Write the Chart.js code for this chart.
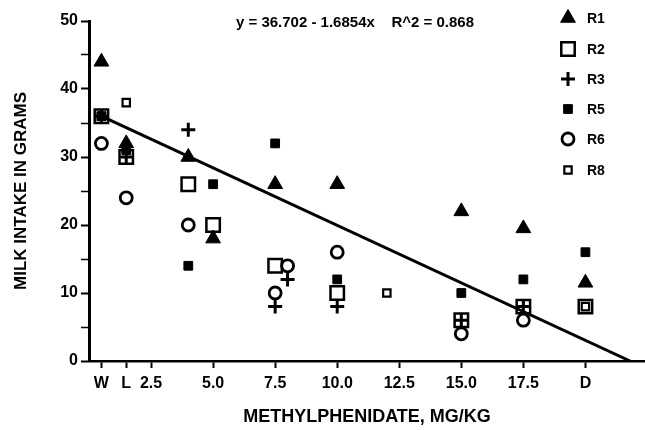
<!DOCTYPE html>
<html>
<head>
<meta charset="utf-8">
<script src="https://cdn.jsdelivr.net/npm/chart.js@4.4.0/dist/chart.umd.min.js"></script>
<style>
  html, body { margin: 0; padding: 0; background: #fff; }
  #wrap { width: 645px; height: 430px; }
</style>
</head>
<body>
<div id="wrap"><canvas id="chart" width="645" height="430"></canvas></div>
<script>
// x positions: W and L sit before 2.5, D is plotted at 20
const xTickValues = [0.5, 1.5, 2.5, 5, 7.5, 10, 12.5, 15, 17.5, 20];
const xTickLabels = ["W", "L", "2.5", "5.0", "7.5", "10.0", "12.5", "15.0", "17.5", "D"];

const seriesNames = ["R1", "R2", "R3", "R5", "R6", "R8"];

const r1X = [0.5, 1.5, 4, 5, 7.5, 10, 15, 17.5, 20];
const r1Y = [44, 32, 30, 18, 26, 26, 22, 19.5, 11.5];

const r2X = [0.5, 1.5, 4, 5, 7.5, 10, 15, 17.5, 20];
const r2Y = [36, 30, 26, 20, 14, 10, 6, 8, 8];

const r3X = [0.5, 1.5, 4, 7.5, 8, 10, 15, 17.5];
const r3Y = [36, 30, 34, 8, 12, 8, 6, 8];

const r5X = [0.5, 1.5, 4, 5, 7.5, 10, 15, 17.5, 20];
const r5Y = [36, 31, 14, 26, 32, 12, 10, 12, 16];

const r6X = [0.5, 1.5, 4, 7.5, 8, 10, 15, 17.5];
const r6Y = [32, 24, 20, 10, 14, 16, 4, 6];

const r8X = [0.5, 1.5, 12, 20];
const r8Y = [36, 38, 10, 8];

// regression line end points
const fitX = [0.5, 21.8];
const fitY = [36, 0];
const fitText = "y = 36.702 - 1.6854x    R^2 = 0.868";

const toPts = (xs, ys) => xs.map((x, i) => ({ x: x, y: ys[i] }));

const BLACK = "#000";
const NONE = "rgba(0,0,0,0)";
const FONT = "'Liberation Sans', Arial, sans-serif";

const markerStyles = {
  R1: { pointStyle: "triangle", radius: 8.5, bg: BLACK, bw: 1 },
  R2: { pointStyle: "rect", radius: 9.5, bg: NONE, bw: 2.5 },
  R3: { pointStyle: "cross", radius: 7, bg: NONE, bw: 3 },
  R5: { pointStyle: "rect", radius: 6.2, bg: BLACK, bw: 1 },
  R6: { pointStyle: "circle", radius: 6, bg: NONE, bw: 2.8 },
  R8: { pointStyle: "rect", radius: 5.2, bg: NONE, bw: 2.2 }
};

const seriesData = {
  R1: toPts(r1X, r1Y),
  R2: toPts(r2X, r2Y),
  R3: toPts(r3X, r3Y),
  R5: toPts(r5X, r5Y),
  R6: toPts(r6X, r6Y),
  R8: toPts(r8X, r8Y)
};

const datasets = [
  {
    label: "fit",
    type: "line",
    data: toPts(fitX, fitY),
    borderColor: BLACK,
    borderWidth: 3,
    pointRadius: 0,
    fill: false,
    order: 10
  }
];

seriesNames.forEach((name) => {
  const s = markerStyles[name];
  datasets.push({
    label: name,
    data: seriesData[name],
    pointStyle: s.pointStyle,
    pointRadius: s.radius,
    pointHoverRadius: s.radius,
    pointBackgroundColor: s.bg,
    pointBorderColor: BLACK,
    pointBorderWidth: s.bw,
    showLine: false
  });
});

// legend at top right and equation text, drawn on the canvas
const annotations = {
  id: "annotations",
  afterDraw(chart) {
    const ctx = chart.ctx;
    ctx.save();
    ctx.fillStyle = BLACK;
    ctx.font = "bold 15px " + FONT;
    ctx.textAlign = "center";
    ctx.textBaseline = "middle";
    ctx.fillText(fitText, 355, 23);

    const rowY = [18, 49, 79, 109, 139, 170];
    seriesNames.forEach((name, i) => {
      const s = markerStyles[name];
      ctx.fillStyle = s.bg;
      ctx.strokeStyle = BLACK;
      ctx.lineWidth = s.bw;
      Chart.helpers.drawPoint(ctx, { pointStyle: s.pointStyle, radius: s.radius, borderWidth: s.bw, rotation: 0 }, 568, rowY[i]);
      ctx.fillStyle = BLACK;
      ctx.font = "bold 14px " + FONT;
      ctx.textAlign = "left";
      ctx.fillText(name, 587, rowY[i] + 1);
    });
    ctx.restore();
  }
};

new Chart(document.getElementById("chart"), {
  type: "scatter",
  data: { datasets: datasets },
  plugins: [annotations],
  options: {
    responsive: false,
    animation: false,
    layout: { autoPadding: false, padding: { top: 21, right: 0, bottom: 0, left: 0 } },
    plugins: {
      legend: { display: false },
      tooltip: { enabled: false }
    },
    scales: {
      x: {
        type: "linear",
        min: 0,
        max: 22.4,
        afterBuildTicks: (scale) => {
          scale.ticks = xTickValues.map((v) => ({ value: v }));
        },
        afterFit: (scale) => {
          scale.height = 69;
        },
        ticks: {
          autoSkip: false,
          maxRotation: 0,
          padding: 6,
          color: BLACK,
          font: { family: FONT, size: 16, weight: "bold" },
          callback: (value, index) => xTickLabels[index]
        },
        grid: {
          display: true,
          drawOnChartArea: false,
          drawTicks: true,
          tickLength: 7,
          tickColor: BLACK,
          tickWidth: 2
        },
        border: { display: true, color: BLACK, width: 2.5 },
        title: {
          display: true,
          text: "METHYLPHENIDATE, MG/KG",
          color: BLACK,
          font: { family: FONT, size: 18, weight: "bold" },
          padding: { top: 0, bottom: 2 }
        }
      },
      y: {
        min: 0,
        max: 50,
        afterFit: (scale) => {
          scale.width = 89;
        },
        ticks: {
          stepSize: 5,
          padding: 3,
          color: BLACK,
          font: { family: FONT, size: 16, weight: "bold" },
          callback: (value) => (value % 10 === 0 ? value : "")
        },
        grid: {
          display: true,
          drawOnChartArea: false,
          drawTicks: true,
          tickLength: 8,
          tickColor: BLACK,
          tickWidth: (c) => (c.tick && c.tick.value % 10 === 0 ? 2 : 1.5)
        },
        border: { display: true, color: BLACK, width: 3 },
        title: {
          display: true,
          text: "MILK INTAKE IN GRAMS",
          color: BLACK,
          font: { family: FONT, size: 17, weight: "bold" },
          padding: { top: 11, bottom: 0 }
        }
      }
    }
  }
});
</script>
</body>
</html>
